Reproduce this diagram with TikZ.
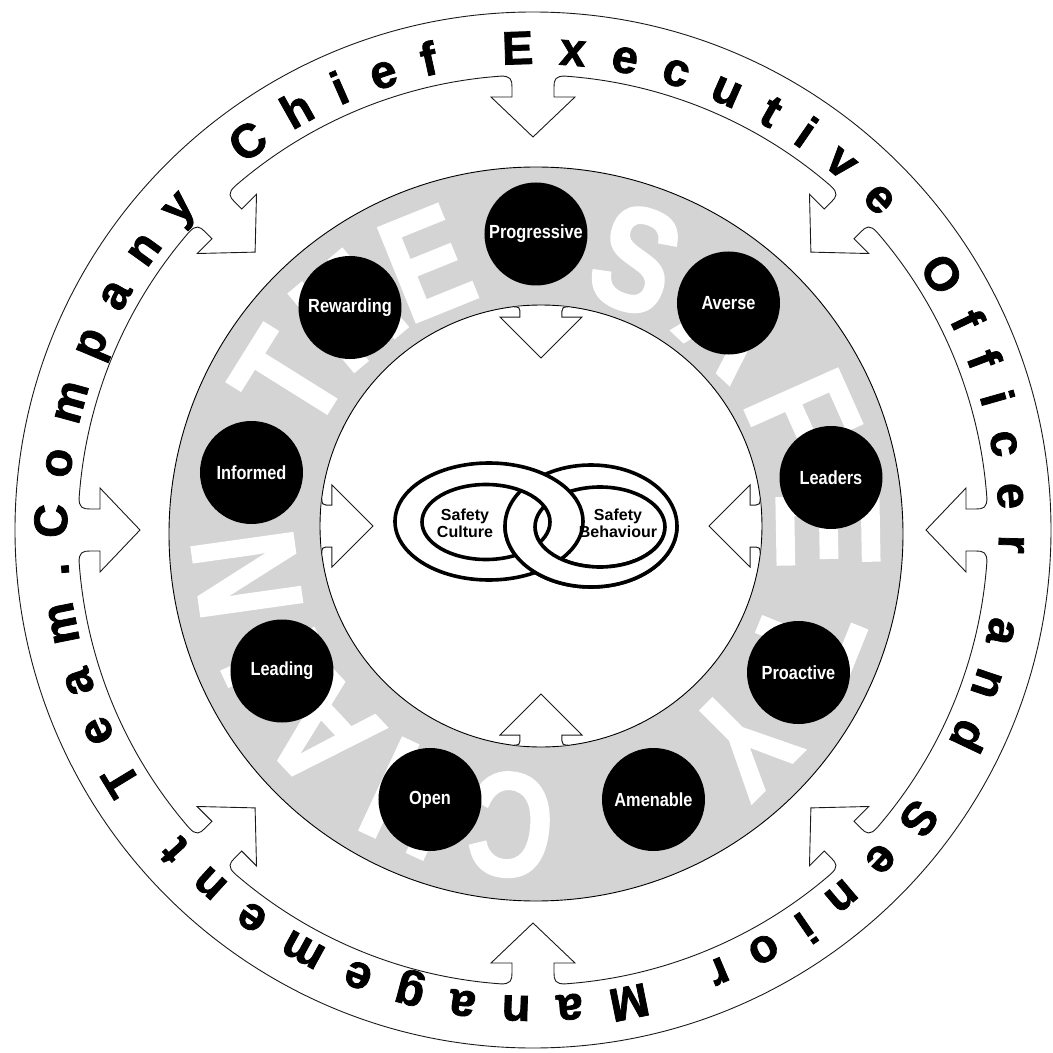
\documentclass[tikz,border=0pt]{standalone}
\usepackage{fontspec}
\setmainfont{Liberation Sans}
\newfontfamily\narrowfont[FakeStretch=0.86]{Liberation Sans}
\newfontfamily\heavyfont[BoldFeatures={FakeBold=1.6}]{Liberation Sans}
\newfontfamily\markfont[FakeStretch=0.8, BoldFeatures={FakeBold=1.5}]{Liberation Sans}
\usetikzlibrary{decorations.text}
\definecolor{cring}{HTML}{D4D4D4}
\definecolor{cline}{HTML}{1A1A1A}
\newcommand\bandfont{\heavyfont\bfseries\fontsize{47}{50}\selectfont}
\tikzset{
  every picture/.style={line width=0.9pt},
  trait/.style={circle, fill=black, minimum size=103pt, inner sep=0pt, text=white, font=\narrowfont\bfseries\fontsize{19}{20}\selectfont},
  wmark/.style={text=white, inner sep=0pt, font=\markfont\bfseries\fontsize{148}{150}\selectfont},
  fatarrow/.style={draw=cline, fill=white, line width=1pt},
  linkband/.style={draw=black, fill=white, even odd rule, line width=3.6pt},
  linktext/.style={font=\bfseries\fontsize{16}{17}\selectfont, align=center, text=black, inner sep=0pt},
}

\begin{document}
\begin{tikzpicture}[x=1pt, y=1pt]
  \useasboundingbox (-533,-523) rectangle (520,530);
  % outer band with the eight arrows
  \draw[cline] (0,0) circle[radius=518pt];
  \foreach \a in {90,45,...,-225} {
    \begin{scope}[rotate=\a-90]
      \draw[cline] (-33,453.8) .. controls (-22,454.5) and (-21,450) .. (-21,443) -- (-21,433) -- (-42,433) -- (0,393) -- (42,433) -- (21,433) -- (21,443) .. controls (21,450) and (22,454.5) .. (33,453.8);
      \draw[cline] (33,453.8) arc[start angle=85.84, end angle=49.16, radius=455pt];
    \end{scope}
  }
  \path[decorate, decoration={text along path, text align=fit to path,
      text={|\bandfont|Company Chief Executive Officer and Senior Management Team.}}]
    (181:466pt) arc[start angle=181, end angle=-176, radius=466pt];
  % grey ring with the white lettering
  \fill[cring, even odd rule] (3,-4) circle[radius=367pt] (8,4) circle[radius=221pt];
  \foreach \ch/\ang [count=\i] in {T/148, H/130, E/112, S/70, A/47, F/24, E/1, T/-22, Y/-45, C/-95, H/-115, A/-137, I/-155, N/-172}
    \node[wmark, rotate=\ang-90] (w\i) at ([shift={(3,-4)}]\ang:292) {\ch};
  \draw (3,-4) circle[radius=367pt];
  \draw (8,4) circle[radius=221pt];
  \foreach \a in {90,0,-90,180} {
    \begin{scope}[shift={(8,4)}, rotate=\a-90]
      \filldraw[fatarrow] (-27,219.3) .. controls (-22,219) and (-21,218) .. (-21,215) -- (-21,209) -- (-41,209) -- (0,168) -- (41,209) -- (21,209) -- (21,215) .. controls (21,218) and (22,219) .. (27,219.3);
    \end{scope}
  }
  \node[trait] (progressive) at (3,296) {Progressive};
  \node[trait] (averse) at (195.5,227) {Averse};
  \node[trait] (leaders) at (298,52.5) {Leaders};
  \node[trait] (proactive) at (265.5,-142.5) {Proactive};
  \node[trait] (amenable) at (120.5,-269.5) {Amenable};
  \node[trait] (open) at (-103,-269.5) {Open};
  \node[trait] (leading) at (-251,-141) {Leading};
  \node[trait] (informed) at (-281.5,57.5) {Informed};
  \node[trait] (rewarding) at (-183,222.5) {Rewarding};
  % chain links
  \filldraw[linkband] (58,4) ellipse[x radius=86pt, y radius=61pt] (67,3) ellipse[x radius=65pt, y radius=40pt];
  \filldraw[linkband] (-44,8.5) ellipse[x radius=94pt, y radius=58.5pt] (-47,8) ellipse[x radius=64pt, y radius=37.5pt];
  \begin{scope}
    \clip (-150,5) rectangle (200,-120);
    \filldraw[linkband] (58,4) ellipse[x radius=86pt, y radius=61pt] (67,3) ellipse[x radius=65pt, y radius=40pt];
  \end{scope}
  \node[linktext] (culture) at (-68,7) {Safety\\Culture};
  \node[linktext] (behaviour) at (85,7) {Safety\\Behaviour};
\end{tikzpicture}
\end{document}
